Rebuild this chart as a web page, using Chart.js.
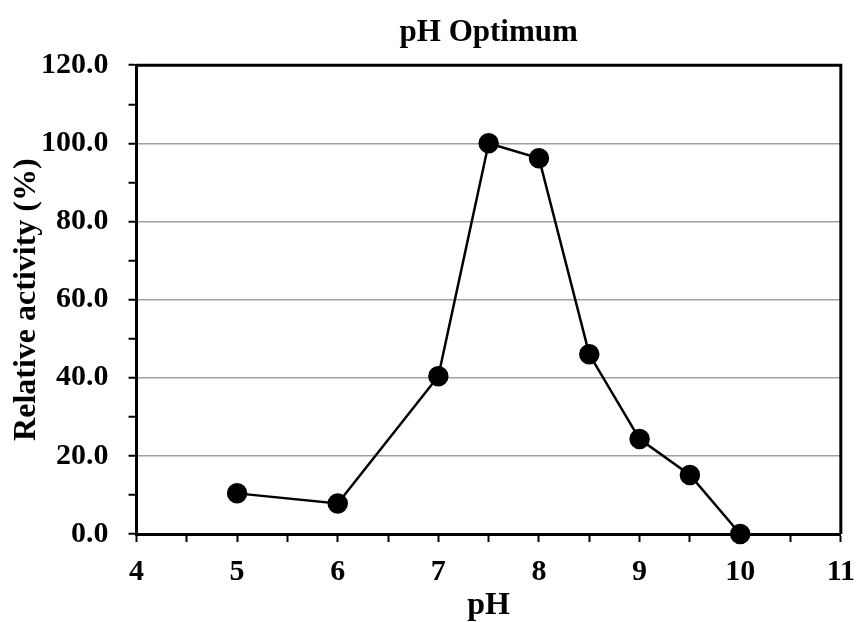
<!DOCTYPE html>
<html>
<head>
<meta charset="utf-8">
<script src="https://cdn.jsdelivr.net/npm/chart.js@4"></script>
<style>
  body { margin: 0; background: #fff; }
  #wrap { width: 858px; height: 622px; }
</style>
</head>
<body>
<div id="wrap"><canvas id="phChart" width="858" height="622"></canvas></div>
<script>
var phValues = [5, 6, 7, 7.5, 8, 8.5, 9, 9.5, 10];
var activity = [10.4, 7.8, 40.4, 100.0, 96.2, 46.0, 24.3, 15.1, 0.0];
var xTicks = [4, 5, 6, 7, 8, 9, 10, 11];
var yTicks = [0, 20, 40, 60, 80, 100, 120];

var serif = "'Liberation Serif', 'Times New Roman', serif";

// top and right edges of the plot box
var boxBorder = {
    id: 'boxBorder',
    afterDraw: function (chart) {
        var a = chart.chartArea, c = chart.ctx;
        c.save();
        c.strokeStyle = '#000';
        c.lineWidth = 3;
        c.beginPath();
        c.moveTo(a.left, a.top);
        c.lineTo(a.right, a.top);
        c.lineTo(a.right, a.bottom);
        c.stroke();
        c.restore();
    }
};

var ctx = document.getElementById('phChart').getContext('2d');
var myChart = new Chart(ctx, {
    type: 'line',
    data: {
        datasets: [{
            label: 'Relative activity',
            data: phValues.map(function (p, i) { return { x: p, y: activity[i] }; }),
            borderColor: '#000',
            backgroundColor: '#000',
            borderWidth: 2.5,
            pointRadius: 9,
            pointHoverRadius: 9,
            pointBackgroundColor: '#000',
            pointBorderColor: '#000',
            tension: 0,
            clip: false
        }]
    },
    options: {
        responsive: false,
        animation: false,
        layout: { padding: { top: 4, right: 0, left: 4, bottom: 0 } },
        plugins: {
            legend: { display: false },
            tooltip: { enabled: false },
            title: {
                display: true,
                text: 'pH Optimum',
                fullSize: false,
                color: '#000',
                font: { family: serif, size: 31, weight: 'bold', lineHeight: 1.2 },
                padding: { top: 10, bottom: 14 }
            }
        },
        scales: {
            x: {
                type: 'linear',
                min: 4,
                max: 11,
                border: { color: '#000', width: 3 },
                grid: {
                    drawOnChartArea: false,
                    tickColor: '#000',
                    tickLength: 8,
                    tickWidth: 2
                },
                ticks: {
                    stepSize: 0.5,
                    autoSkip: false,
                    maxRotation: 0,
                    color: '#000',
                    padding: 3,
                    font: { family: serif, size: 30, weight: 'bold', lineHeight: 1.8 },
                    callback: function (v) { return xTicks.indexOf(v) >= 0 ? String(v) : ''; }
                },
                title: {
                    display: true,
                    text: 'pH',
                    color: '#000',
                    padding: { top: -12, bottom: 0 },
                    font: { family: serif, size: 32, weight: 'bold', lineHeight: 1.0 }
                }
            },
            y: {
                min: 0,
                max: 120,
                border: { color: '#000', width: 3 },
                grid: {
                    color: function (c) {
                        var v = c.tick ? c.tick.value : 0;
                        return (yTicks.indexOf(v) >= 0 && v > 0 && v < 120) ? '#a0a0a0' : 'rgba(0,0,0,0)';
                    },
                    lineWidth: 1.5,
                    tickColor: '#000',
                    tickLength: 8,
                    tickWidth: 2
                },
                ticks: {
                    stepSize: 10,
                    autoSkip: false,
                    color: '#000',
                    padding: 20,
                    font: { family: serif, size: 30, weight: 'bold' },
                    callback: function (v) { return yTicks.indexOf(v) >= 0 ? v.toFixed(1) : ''; }
                },
                title: {
                    display: true,
                    text: 'Relative activity (%)',
                    color: '#000',
                    padding: { top: 7, bottom: -22 },
                    font: { family: serif, size: 32, weight: 'bold', lineHeight: 1.0 }
                }
            }
        }
    },
    plugins: [boxBorder]
});
</script>
</body>
</html>
